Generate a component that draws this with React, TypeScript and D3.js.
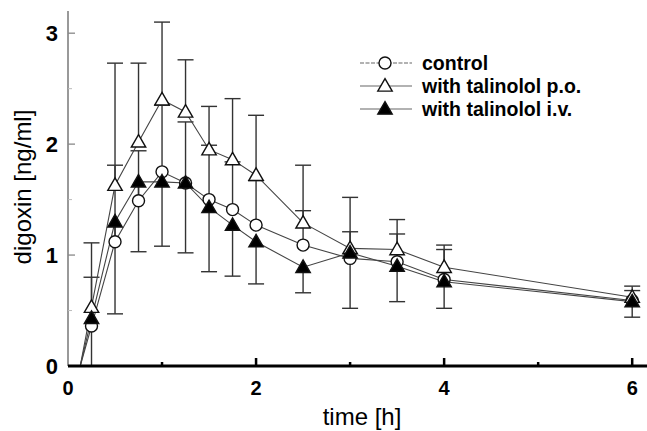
import React from 'react';
import * as d3 from 'd3';

// sampling times [h]
const times = [0.25, 0.5, 0.75, 1, 1.25, 1.5, 1.75, 2, 2.5, 3, 3.5, 4, 6];
// curves start from the lag time at zero concentration
const lagTime = 0.13;

// mean digoxin [ng/ml]
const control = [0.36, 1.12, 1.49, 1.75, 1.65, 1.5, 1.41, 1.27, 1.09, 0.97, 0.94, 0.78, 0.59];
const talinololPo = [0.53, 1.63, 2.02, 2.4, 2.29, 1.95, 1.86, 1.72, 1.29, 1.06, 1.05, 0.89, 0.62];
const talinololIv = [0.43, 1.3, 1.66, 1.66, 1.65, 1.43, 1.27, 1.12, 0.89, 1.02, 0.9, 0.76, 0.58];

// SD, drawn one side only
const controlSdUp = [0.44, 0.69, 0.45, 0.6, 0.55, 0.49, 0.43, 0.4, 0.31, 0.24, 0.25, 0.27, 0.09];
const talinololPoSdUp = [0.58, 1.1, 0.71, 0.7, 0.47, 0.39, 0.55, 0.54, 0.52, 0.46, 0.27, 0.2, 0.1];
const talinololIvSdDown = [0.43, 0.83, 0.63, 0.58, 0.63, 0.58, 0.46, 0.38, 0.23, 0.5, 0.32, 0.24, 0.14];

const yTicks = [0, 1, 2, 3];
const yMinor = [0.5, 1.5, 2.5];
const xTicks = [0, 2, 4, 6];
const xMinor = [1, 3, 5];

const legendLabels = ['control', 'with talinolol p.o.', 'with talinolol i.v.'];

const W = 647, H = 431;
const x = d3.scaleLinear().domain([0, 6.2]).range([68, 651]);
const y = d3.scaleLinear().domain([0, 3.2]).range([366, 11]);

const font = 'Liberation Sans, Arial, Helvetica, sans-serif';
const tri = d3.symbol(d3.symbolTriangle, 90)() as string;

const line = d3.line<[number, number]>()
  .x(d => x(d[0]))
  .y(d => y(d[1]));

const series = [
  { name: legendLabels[0], values: control, sd: controlSdUp, dir: 1, marker: 'circle', fill: 'white' },
  { name: legendLabels[1], values: talinololPo, sd: talinololPoSdUp, dir: 1, marker: 'tri', fill: 'white' },
  { name: legendLabels[2], values: talinololIv, sd: talinololIvSdDown, dir: -1, marker: 'tri', fill: 'black' },
];

const Marker = ({ cx, cy, kind, fill }: { cx: number; cy: number; kind: string; fill: string }) =>
  kind === 'circle'
    ? <circle cx={cx} cy={cy} r={6} fill={fill} stroke="#111" strokeWidth={1.4} />
    : <path d={tri} transform={`translate(${cx},${cy + 1})`} fill={fill} stroke="#111" strokeWidth={1.4} />;

export default function App() {
  return (
    <svg width={W} height={H} style={{ position: 'absolute', left: 0, top: 0, background: 'white' }}>
      {/* y axis */}
      <line x1={x(0)} x2={x(0)} y1={y(0)} y2={y(3.2)} stroke="#777" strokeWidth={1.5} />
      {yTicks.filter(t => t > 0).map(t => (
        <line key={t} x1={x(0)} x2={x(0) + 7} y1={y(t)} y2={y(t)} stroke="#888" strokeWidth={1.3} />
      ))}
      {yMinor.map(t => (
        <line key={t} x1={x(0)} x2={x(0) + 4} y1={y(t)} y2={y(t)} stroke="#bbb" strokeWidth={1} />
      ))}
      {yTicks.map(t => (
        <text key={t} x={58} y={y(t)} dy="0.36em" textAnchor="end" fontFamily={font} fontWeight="bold" fontSize={22}>{t}</text>
      ))}

      {/* error bars */}
      {series.map(s => (
        <g key={s.name} stroke="#333" strokeWidth={1.4}>
          {times.map((t, i) => {
            const end = Math.max(0, s.values[i] + s.dir * s.sd[i]);
            return (
              <g key={t}>
                <line x1={x(t)} x2={x(t)} y1={y(s.values[i])} y2={y(end)} />
                {end > 0 && <line x1={x(t) - 8} x2={x(t) + 8} y1={y(end)} y2={y(end)} />}
              </g>
            );
          })}
        </g>
      ))}

      {/* curves */}
      {series.map(s => (
        <path key={s.name}
          d={line([[lagTime, 0], ...times.map((t, i) => [t, s.values[i]] as [number, number])]) as string}
          fill="none" stroke="#444" strokeWidth={1.1} />
      ))}

      {/* markers */}
      {series.map(s => (
        <g key={s.name}>
          {times.map((t, i) => (
            <Marker key={t} cx={x(t)} cy={y(s.values[i])} kind={s.marker} fill={s.fill} />
          ))}
        </g>
      ))}

      {/* x axis */}
      <line x1={x(0)} x2={W} y1={y(0)} y2={y(0)} stroke="#000" strokeWidth={3} />
      {xTicks.filter(t => t > 0).map(t => (
        <line key={t} x1={x(t)} x2={x(t)} y1={y(0)} y2={y(0) - 8} stroke="#000" strokeWidth={2.5} />
      ))}
      {xMinor.map(t => (
        <line key={t} x1={x(t)} x2={x(t)} y1={y(0)} y2={y(0) - 4} stroke="#000" strokeWidth={2.5} />
      ))}
      {xTicks.map(t => (
        <text key={t} x={x(t)} y={395} textAnchor="middle" fontFamily={font} fontWeight="bold" fontSize={20}>{t}</text>
      ))}

      {/* axis titles */}
      <text x={362} y={425} textAnchor="middle" fontFamily={font} fontSize={24}>time [h]</text>
      <text transform="translate(31,187) rotate(-90)" textAnchor="middle" fontFamily={font} fontSize={24}>digoxin [ng/ml]</text>

      {/* legend */}
      {series.map((s, i) => {
        const ly = 63 + i * 23;
        return (
          <g key={s.name}>
            <line x1={360} x2={412} y1={ly} y2={ly} stroke="#666" strokeWidth={1.1} strokeDasharray={i === 0 ? '4 1.5' : undefined} />
            <Marker cx={385} cy={ly} kind={s.marker} fill={s.fill} />
            <text x={422} y={ly} dy="0.36em" fontFamily={font} fontWeight="bold" fontSize={19.5}>{s.name}</text>
          </g>
        );
      })}
    </svg>
  );
}
